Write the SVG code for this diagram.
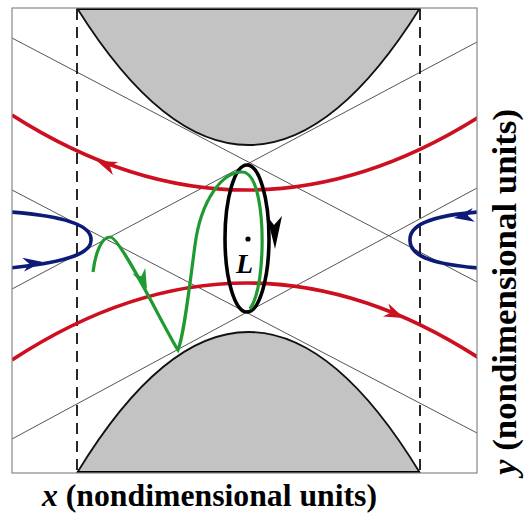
<svg xmlns="http://www.w3.org/2000/svg" xmlns:xlink="http://www.w3.org/1999/xlink" width="526" height="518" viewBox="0 0 526 518">
  <style>
    .guide { stroke: #555; stroke-width: 1; fill: none; }
    .dash { stroke: #111; stroke-width: 1.8; stroke-dasharray: 11 7; fill: none; }
    .forbid { fill: #c3c3c3; stroke: #111; stroke-width: 1.8; }
    .red { stroke: #cc1020; stroke-width: 3.6; fill: none; }
    .blue { stroke: #0c1a78; stroke-width: 3.6; fill: none; }
    .green { stroke: #1f9a30; stroke-width: 3.2; fill: none; }
    .orbit { stroke: #000; stroke-width: 3.6; fill: none; }
    .label { font-family: "Liberation Serif", "Times New Roman", serif; font-weight: bold; fill: #000; }
  </style>
  <defs>
    <clipPath id="plot"><rect x="12" y="8" width="465" height="465"/></clipPath>
    <path id="ah" d="M0,0 L-20,-7 L-14,0 L-20,7 Z"/>
  </defs>
  <rect width="526" height="518" fill="#fff"/>

  <g id="plot-area" clip-path="url(#plot)">
    <g id="guides">
      <line class="guide" x1="12" y1="289" x2="477" y2="42"/>
      <line class="guide" x1="12" y1="38" x2="477" y2="282"/>
      <line class="guide" x1="12" y1="190" x2="477" y2="433"/>
      <line class="guide" x1="12" y1="439" x2="477" y2="188"/>
    </g>
    <g id="forbidden-regions">
      <path class="forbid" d="M77,8 Q248.5,282 420,8 Z"/>
      <path class="forbid" d="M77,473 Q248.5,191 420,473 Z"/>
      <line x1="77" y1="8.5" x2="420" y2="8.5" stroke="#000" stroke-width="3"/>
      <line x1="77" y1="472.5" x2="420" y2="472.5" stroke="#000" stroke-width="3"/>
    </g>
    <g id="bounds">
      <line class="dash" x1="77" y1="9" x2="77" y2="473"/>
      <line class="dash" x1="420" y1="9" x2="420" y2="473"/>
    </g>
    <g id="red-trajectories">
      <path class="red" d="M12,115 Q247,265 482,115"/>
      <path class="red" d="M12,360 Q247,206 482,360"/>
      <use xlink:href="#ah" fill="#cc1020" transform="translate(97,161) rotate(201.8)"/>
      <use xlink:href="#ah" fill="#cc1020" transform="translate(404,318) rotate(23.5)"/>
    </g>
    <g id="blue-trajectories">
      <path class="blue" d="M10,212 C50,215 92,222 91,240 C92,257 50,264 10,268"/>
      <path class="blue" d="M479,212 C440,215 409,222 410,240 C409,258 440,265 479,268"/>
      <use xlink:href="#ah" fill="#0c1a78" transform="translate(43,262) rotate(-7.5)"/>
      <use xlink:href="#ah" fill="#0c1a78" transform="translate(454,218) rotate(171)"/>
    </g>
    <g id="periodic-orbit">
      <ellipse class="orbit" cx="247" cy="238.5" rx="22" ry="73.5"/>
      <path d="M275,249 L267,216 L274,225 L282,216 Z" fill="#000"/>
    </g>
    <g id="green-trajectory">
      <path class="green" d="M93,272 C95,255 101,237 110,237 C120,236 165,330 178,350 C184,335 189,290 195,245 C201,200 222,172 242,172 C258,172 263,215 262,250 C261,280 256,300 250,309"/>
      <use xlink:href="#ah" fill="#1f9a30" transform="translate(147,289) rotate(66)"/>
    </g>
    <g id="L-point">
      <circle cx="248" cy="239" r="2.6" fill="#000"/>
      <text class="label" x="236" y="273" font-size="28" font-style="italic">L</text>
    </g>
  </g>
  <rect id="frame" x="12" y="8" width="465" height="465" fill="none" stroke="#888" stroke-width="1.2"/>

  <g id="axis-labels">
    <text class="label" x="42" y="506" font-size="32" textLength="335" lengthAdjust="spacingAndGlyphs"><tspan font-style="italic">x</tspan> (nondimensional units)</text>
    <text class="label" transform="translate(516,292) rotate(-90)" text-anchor="middle" font-size="33" textLength="366" lengthAdjust="spacingAndGlyphs"><tspan font-style="italic">y</tspan> (nondimensional units)</text>
  </g>
</svg>
